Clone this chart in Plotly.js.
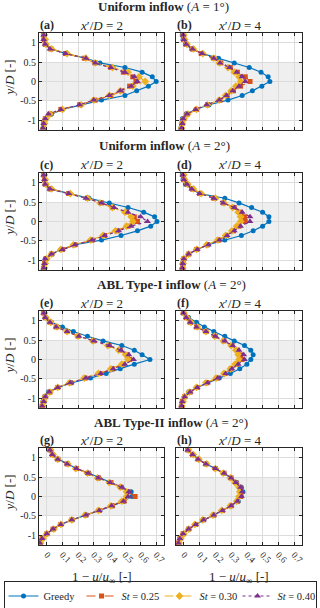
<!DOCTYPE html>
<html>
<head>
<meta charset="utf-8">
<script src="https://cdn.plot.ly/plotly-3.0.1.min.js"></script>
<style>html,body{margin:0;padding:0;background:#fff}#plot{width:320px;height:608px}</style>
</head>
<body>
<div id="plot"></div>
<script>
// lateral positions y/D (same for every profile)
var yPos = [1.2, 1.08, 0.96, 0.84, 0.72, 0.6, 0.48, 0.36, 0.24, 0.12, 0, -0.12, -0.24, -0.36, -0.48, -0.6, -0.72, -0.84, -0.96, -1.08, -1.2];

// (a) uniform A=1, x'/D=2
var greedyA = [-0.02,-0.02,-0.01,0.03,0.12,0.25,0.34,0.50,0.61,0.675,0.70,0.65,0.575,0.50,0.35,0.22,0.10,0.03,-0.01,-0.02,-0.025];
var st25A = [-0.02,-0.015,-0.01,0.025,0.12,0.24,0.31,0.41,0.49,0.55,0.57,0.53,0.48,0.41,0.31,0.21,0.09,0.02,-0.01,-0.02,-0.02];
var st30A = [-0.015,-0.01,-0.005,0.03,0.13,0.25,0.31,0.42,0.52,0.59,0.63,0.55,0.47,0.40,0.30,0.22,0.10,0.02,-0.005,-0.015,-0.02];
var st40A = [-0.02,-0.02,-0.01,0.02,0.12,0.25,0.31,0.41,0.50,0.56,0.58,0.54,0.47,0.40,0.30,0.21,0.09,0.01,-0.01,-0.02,-0.025];
// (b) uniform A=1, x'/D=4
var greedyB = [-0.01,-0.005,0.01,0.05,0.12,0.22,0.32,0.415,0.49,0.535,0.546,0.495,0.435,0.37,0.28,0.16,0.075,0.015,-0.01,-0.015,-0.02];
var st25B = [-0.005,0.0,0.015,0.055,0.11,0.19,0.235,0.295,0.34,0.39,0.42,0.36,0.315,0.275,0.23,0.15,0.08,0.02,0.0,-0.01,-0.015];
var st30B = [0.0,0.005,0.02,0.06,0.12,0.19,0.225,0.28,0.32,0.35,0.36,0.33,0.30,0.265,0.225,0.15,0.08,0.025,0.0,-0.01,-0.015];
var st40B = [-0.005,0.0,0.015,0.055,0.115,0.19,0.23,0.29,0.335,0.37,0.39,0.35,0.31,0.27,0.225,0.145,0.075,0.02,-0.005,-0.01,-0.015];
// (c) uniform A=2, x'/D=2
var greedyC = [-0.02,-0.015,-0.01,0.02,0.14,0.27,0.40,0.52,0.62,0.69,0.705,0.665,0.58,0.475,0.35,0.18,0.09,0.03,-0.01,-0.015,-0.02];
var st25C = [-0.02,-0.015,-0.01,0.02,0.14,0.26,0.35,0.42,0.51,0.56,0.58,0.52,0.45,0.37,0.29,0.18,0.10,0.03,-0.005,-0.015,-0.02];
var st30C = [-0.015,-0.01,-0.005,0.03,0.15,0.26,0.34,0.42,0.50,0.54,0.55,0.51,0.44,0.36,0.28,0.17,0.09,0.03,0.0,-0.01,-0.015];
var st40C = [-0.02,-0.015,-0.01,0.02,0.14,0.25,0.35,0.43,0.52,0.60,0.645,0.54,0.46,0.37,0.29,0.18,0.10,0.03,-0.01,-0.015,-0.02];
// (d) uniform A=2, x'/D=4
var greedyD = [-0.01,-0.005,0.01,0.05,0.10,0.26,0.35,0.43,0.50,0.54,0.54,0.50,0.44,0.365,0.26,0.155,0.085,0.03,0.0,-0.01,-0.01];
var st25D = [-0.005,0.0,0.02,0.055,0.10,0.19,0.25,0.32,0.36,0.385,0.39,0.35,0.315,0.27,0.22,0.15,0.08,0.03,0.0,-0.005,-0.007];
var st30D = [0.0,0.005,0.025,0.06,0.11,0.20,0.255,0.31,0.345,0.36,0.36,0.335,0.305,0.265,0.215,0.145,0.08,0.03,0.0,-0.005,-0.007];
var st40D = [-0.007,0.0,0.02,0.05,0.10,0.19,0.25,0.32,0.37,0.42,0.42,0.36,0.32,0.275,0.225,0.155,0.085,0.03,0.0,-0.007,-0.01];
// (e) ABL type-I, x'/D=2
var greedyE = [-0.02,-0.01,0.03,0.10,0.17,0.26,0.36,0.48,0.56,0.61,0.66,0.56,0.47,0.38,0.28,0.16,0.07,0.01,-0.015,-0.025,-0.03];
var st25E = [-0.02,-0.01,0.02,0.06,0.13,0.20,0.30,0.40,0.47,0.515,0.53,0.49,0.42,0.34,0.245,0.15,0.07,0.02,-0.01,-0.02,-0.03];
var st30E = [-0.015,-0.005,0.025,0.065,0.13,0.20,0.295,0.39,0.46,0.505,0.52,0.48,0.41,0.33,0.24,0.145,0.07,0.02,-0.01,-0.02,-0.025];
var st40E = [-0.02,-0.01,0.02,0.06,0.13,0.205,0.30,0.40,0.475,0.525,0.555,0.50,0.425,0.345,0.25,0.15,0.07,0.015,-0.01,-0.02,-0.03];
// (f) ABL type-I, x'/D=4
var greedyF = [0.0,0.03,0.08,0.13,0.19,0.26,0.32,0.385,0.425,0.44,0.425,0.40,0.355,0.295,0.225,0.15,0.085,0.03,0.005,-0.01,-0.015];
var st25F = [-0.003,0.015,0.04,0.08,0.14,0.20,0.255,0.305,0.34,0.36,0.37,0.335,0.30,0.26,0.21,0.145,0.085,0.04,0.005,-0.01,-0.015];
var st30F = [0.0,0.02,0.045,0.085,0.14,0.195,0.25,0.30,0.33,0.345,0.35,0.325,0.295,0.255,0.205,0.14,0.08,0.035,0.005,-0.005,-0.012];
var st40F = [-0.003,0.015,0.04,0.08,0.14,0.20,0.26,0.31,0.35,0.38,0.385,0.345,0.305,0.265,0.215,0.15,0.085,0.04,0.005,-0.01,-0.015];
// (g) ABL type-II, x'/D=2
var greedyG = [0.02,0.04,0.075,0.135,0.19,0.27,0.335,0.41,0.48,0.54,0.545,0.49,0.42,0.34,0.25,0.165,0.09,0.04,0.0,-0.03,-0.045];
var st25G = [0.02,0.035,0.07,0.13,0.19,0.265,0.33,0.41,0.475,0.52,0.565,0.495,0.42,0.335,0.25,0.16,0.09,0.04,0.0,-0.03,-0.045];
var st30G = [0.025,0.04,0.07,0.135,0.185,0.26,0.325,0.40,0.47,0.51,0.51,0.48,0.41,0.33,0.245,0.16,0.09,0.045,0.0,-0.025,-0.04];
var st40G = [0.02,0.035,0.07,0.13,0.19,0.265,0.33,0.405,0.48,0.525,0.52,0.49,0.415,0.335,0.25,0.16,0.09,0.04,0.0,-0.03,-0.045];
// (h) ABL type-II, x'/D=4
var greedyH = [0.025,0.055,0.095,0.14,0.20,0.255,0.30,0.335,0.365,0.375,0.365,0.345,0.30,0.245,0.19,0.125,0.075,0.03,-0.005,-0.025,-0.035];
var st25H = [0.025,0.055,0.09,0.14,0.20,0.255,0.30,0.33,0.355,0.365,0.36,0.34,0.30,0.245,0.19,0.125,0.075,0.03,-0.005,-0.025,-0.035];
var st30H = [0.03,0.06,0.095,0.145,0.20,0.25,0.295,0.325,0.35,0.355,0.35,0.335,0.295,0.24,0.185,0.12,0.07,0.03,0.0,-0.02,-0.03];
var st40H = [0.025,0.055,0.09,0.14,0.20,0.255,0.30,0.33,0.36,0.37,0.365,0.34,0.30,0.245,0.19,0.125,0.075,0.03,-0.005,-0.025,-0.035];

var seriesNames = ['Greedy', '<i>St</i> = 0.25', '<i>St</i> = 0.30', '<i>St</i> = 0.40'];
var panelLabels = ['(a)', '(b)', '(c)', '(d)', '(e)', '(f)', '(g)', '(h)'];
var colTitles = ['<i>x</i>\u2032/<i>D</i> = 2', '<i>x</i>\u2032/<i>D</i> = 4'];
var rowTitles = ['<b>Uniform inflow</b> (<i>A</i> = 1\u00b0)', '<b>Uniform inflow</b> (<i>A</i> = 2\u00b0)',
                 '<b>ABL Type-I inflow</b> (<i>A</i> = 2\u00b0)', '<b>ABL Type-II inflow</b> (<i>A</i> = 2\u00b0)'];
var xTicks = [0, 0.1, 0.2, 0.3, 0.4, 0.5, 0.6, 0.7];
var yTicks = [-1, -0.5, 0, 0.5, 1];
var yTickText = ['-1', '-0.5', '0', '0.5', '1'];

var panels = [
  [greedyA, st25A, st30A, st40A], [greedyB, st25B, st30B, st40B],
  [greedyC, st25C, st30C, st40C], [greedyD, st25D, st30D, st40D],
  [greedyE, st25E, st30E, st40E], [greedyF, st25F, st30F, st40F],
  [greedyG, st25G, st30G, st40G], [greedyH, st25H, st30H, st40H]
];

var serif = '"Liberation Serif", "Times New Roman", serif';
var ink = '#262626';
var colors = ['#0072BD', '#D95319', '#EDB120', '#7E2F8E'];
var symbols = ['circle', 'square', 'diamond', 'triangle-up'];
var sizes = [5, 5, 6, 6];
var dashes = ['solid', 'dash', 'dashdot', 'dot'];

// pixel boxes of the 8 axes (320x608 canvas)
var colPx = [[39, 164], [176, 302]];
var rowPx = [[33, 130], [173, 270], [311, 408], [448, 545]];
var W = 320, H = 608;
function px(x) { return x / W; }
function py(y) { return 1 - y / H; }

var data = [];
var layout = {
  width: W, height: H,
  margin: {l: 0, r: 0, t: 0, b: 0, autoexpand: false},
  paper_bgcolor: '#fff', plot_bgcolor: '#fff',
  font: {family: serif, color: ink, size: 10},
  showlegend: true,
  legend: {
    orientation: 'h', x: 0.5, xanchor: 'center', y: py(596), yanchor: 'middle',
    bordercolor: ink, borderwidth: 1, bgcolor: '#fff',
    font: {family: serif, size: 10.5, color: ink},
    itemwidth: 30, tracegroupgap: 0,
    entrywidth: 33, entrywidthmode: 'pixels'
  },
  shapes: [], annotations: []
};

panels.forEach(function(series, i) {
  var r = Math.floor(i / 2), c = i % 2, n = i + 1;
  var xa = 'x' + (n > 1 ? n : ''), ya = 'y' + (n > 1 ? n : '');
  series.forEach(function(vals, k) {
    data.push({
      x: vals, y: yPos, xaxis: xa, yaxis: ya,
      type: 'scatter', mode: 'lines+markers',
      name: seriesNames[k], legendgroup: 's' + k, showlegend: i === 0,
      line: {color: colors[k], width: 1.2, dash: dashes[k]},
      marker: {color: colors[k], symbol: symbols[k], size: sizes[k]}
    });
  });
  layout['xaxis' + (n > 1 ? n : '')] = {
    domain: [px(colPx[c][0]), px(colPx[c][1])], anchor: ya,
    range: [-0.05, 0.75], tickvals: xTicks, ticktext: xTicks.map(String),
    showticklabels: r === 3, tickangle: 45,
    tickfont: {family: serif, size: 9, color: ink},
    ticks: 'inside', ticklen: 3, tickcolor: ink,
    showgrid: true, gridcolor: '#dcdcdc', gridwidth: 1, zeroline: false,
    showline: true, linecolor: ink, linewidth: 1, mirror: 'ticks'
  };
  layout['yaxis' + (n > 1 ? n : '')] = {
    domain: [py(rowPx[r][1]), py(rowPx[r][0])], anchor: xa,
    range: [-1.25, 1.25], tickvals: yTicks, ticktext: yTickText,
    showticklabels: c === 0,
    tickfont: {family: serif, size: 10, color: ink},
    ticks: 'inside', ticklen: 3, tickcolor: ink,
    showgrid: true, gridcolor: '#dcdcdc', gridwidth: 1, zeroline: false,
    showline: true, linecolor: ink, linewidth: 1, mirror: 'ticks'
  };
  // rotor band |y/D| < 0.5
  layout.shapes.push({
    type: 'rect', layer: 'below', xref: xa + ' domain', yref: ya,
    x0: 0, x1: 1, y0: -0.5, y1: 0.5, fillcolor: '#efefef', line: {width: 0}
  });
  layout.annotations.push({
    text: '<b>' + panelLabels[i] + '</b>', xref: 'paper', yref: 'paper',
    x: px(colPx[c][0] - 1), xanchor: 'left', y: py(rowPx[r][0] - 8), yanchor: 'middle',
    showarrow: false, font: {family: serif, size: 12, color: ink}
  });
  layout.annotations.push({
    text: colTitles[c], xref: 'paper', yref: 'paper',
    x: px((colPx[c][0] + colPx[c][1]) / 2), xanchor: 'center', y: py(rowPx[r][0] - 8), yanchor: 'middle',
    showarrow: false, font: {family: serif, size: 13, color: ink}
  });
  if (c === 0) {
    layout.annotations.push({
      text: '<i>y</i>/<i>D</i> [-]', xref: 'paper', yref: 'paper', textangle: -90,
      x: px(9), xanchor: 'center', y: py((rowPx[r][0] + rowPx[r][1]) / 2 - 3), yanchor: 'middle',
      showarrow: false, font: {family: serif, size: 13, color: ink}
    });
  }
  if (r === 3) {
    layout.annotations.push({
      text: '1 \u2212 <i>u</i>/<i>u</i><sub>\u221e</sub> [-]', xref: 'paper', yref: 'paper',
      x: px((colPx[c][0] + colPx[c][1]) / 2), xanchor: 'center', y: py(577), yanchor: 'middle',
      showarrow: false, font: {family: serif, size: 13, color: ink}
    });
  }
});

var titleY = [7, 146, 284, 422];
var titleX = [163, 164, 171, 171];
rowTitles.forEach(function(t, r) {
  layout.annotations.push({
    text: t, xref: 'paper', yref: 'paper', x: px(titleX[r]), xanchor: 'center',
    y: py(titleY[r]), yanchor: 'middle', showarrow: false,
    font: {family: serif, size: 13, color: ink}
  });
});

Plotly.newPlot('plot', data, layout, {staticPlot: true, displayModeBar: false});
</script>
</body>
</html>
